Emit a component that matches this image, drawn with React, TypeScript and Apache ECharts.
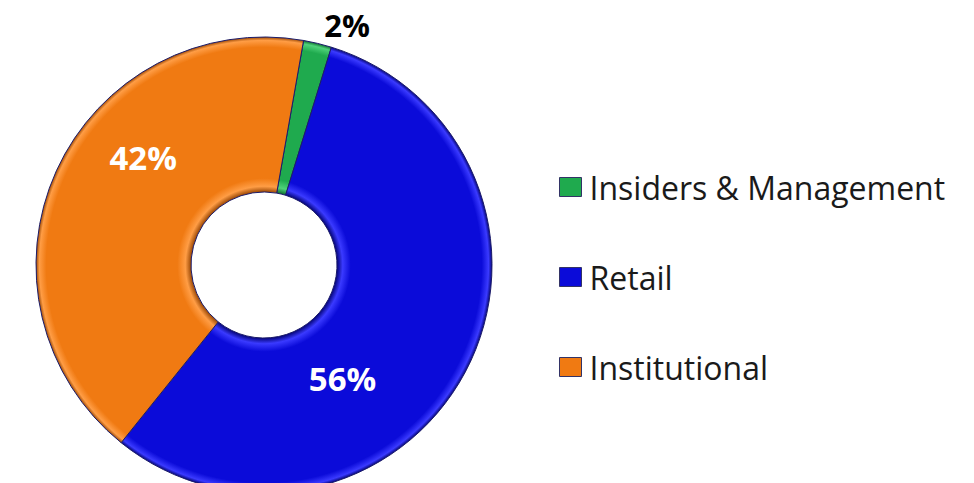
import React, { useEffect, useRef } from "react";
import * as echarts from "echarts";

const categories = ["Insiders & Management", "Retail", "Institutional"];
const values = [2, 56, 42];
const colors = ["#1faa4e", "#0b0bd9", "#f07a12"];
const darkColors = ["#0d6b2c", "#05057a", "#9a4805"];
const lightColors = ["#4fd27a", "#3a3aff", "#ff9d45"];
const labelColors = ["#000000", "#ffffff", "#ffffff"];
const labelOffsets: [number, number][] = [[47, -91], [-57, 41], [19, -44]];

const CX = 264;
const CY = 265;
const R0 = 73;
const R1 = 228;

function bevel(i: number) {
  const a = R0 / R1;
  return {
    type: "radial",
    x: CX,
    y: CY,
    r: R1,
    global: true,
    colorStops: [
      { offset: 0, color: darkColors[i] },
      { offset: a, color: darkColors[i] },
      { offset: a + 0.025, color: lightColors[i] },
      { offset: a + 0.06, color: colors[i] },
      { offset: 0.955, color: colors[i] },
      { offset: 0.985, color: lightColors[i] },
      { offset: 1, color: darkColors[i] },
    ],
  };
}

export default function App() {
  const ref = useRef<HTMLDivElement>(null);
  useEffect(() => {
    if (!ref.current) return;
    const chart = echarts.init(ref.current, undefined, { renderer: "svg" });
    chart.setOption({
      animation: false,
      backgroundColor: "#ffffff",
      legend: {
        orient: "vertical",
        left: 554,
        top: 166,
        itemWidth: 22,
        itemHeight: 19,
        itemGap: 58,
        icon: "rect",
        textStyle: {
          fontFamily: "Open Sans",
          fontSize: 32,
          color: "#1a1a1a",
          padding: [0, 0, 0, 3],
        },
        data: categories.map((c, i) => ({
          name: c,
          itemStyle: { color: colors[i], borderColor: "#333366", borderWidth: 1 },
        })),
      },
      series: [
        {
          type: "pie",
          center: [CX, CY],
          radius: [R0, R1],
          startAngle: 80,
          clockwise: true,
          avoidLabelOverlap: false,
          labelLine: { show: false },
          emphasis: { disabled: true },
          itemStyle: { borderColor: "#1c1c6a", borderWidth: 1 },
          data: categories.map((c, i) => ({
            name: c,
            value: values[i],
            itemStyle: { color: bevel(i) },
            label: {
              show: true,
              position: "inside",
              formatter: "{d}%",
              offset: labelOffsets[i],
              color: labelColors[i],
              fontFamily: "Open Sans",
              fontWeight: "bold",
              fontSize: i === 0 ? 31 : 33,
            },
          })),
        },
      ],
    });
    return () => chart.dispose();
  }, []);
  return (
    <div
      ref={ref}
      style={{ position: "fixed", left: 0, top: 0, width: 974, height: 483 }}
    />
  );
}
